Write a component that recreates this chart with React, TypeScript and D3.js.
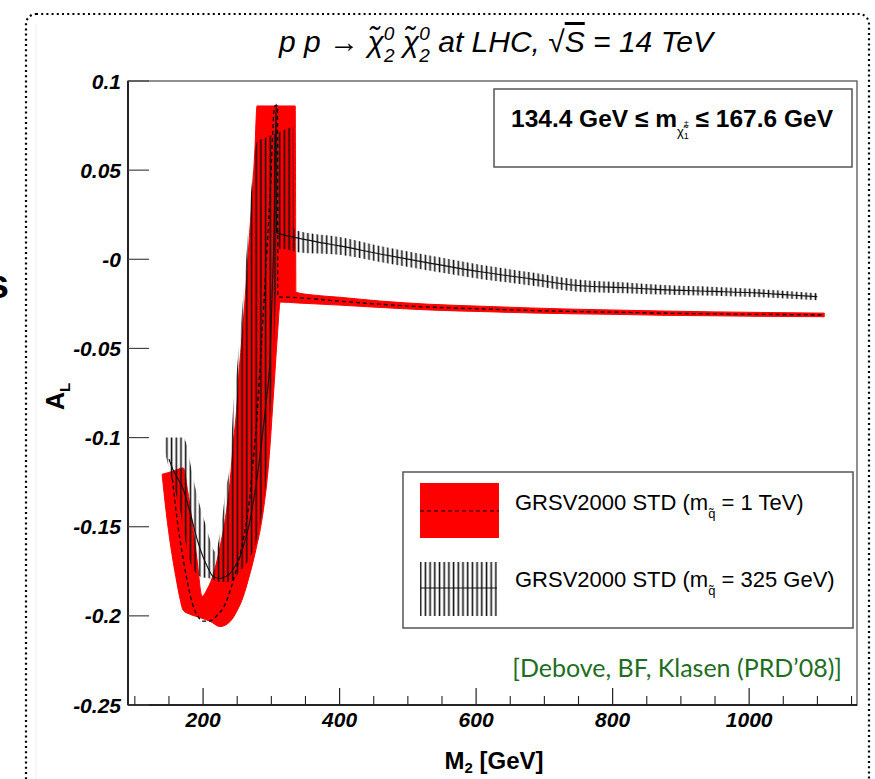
import React from "react";
import * as d3 from "d3";

const W = 875;
const H = 779;

// Axis ticks
const yTickValues = [0.1, 0.05, 0, -0.05, -0.1, -0.15, -0.2, -0.25];
const yTickLabels = ["0.1", "0.05", "-0", "-0.05", "-0.1", "-0.15", "-0.2", "-0.25"];
const xMajorTicks = [200, 400, 600, 800, 1000];
const xMinorTicks = [100, 150, 250, 300, 350, 450, 500, 550, 650, 700, 750, 850, 900, 950, 1050, 1100, 1150];

// GRSV2000 STD, m_squark = 1 TeV : band edges and central curve
const red1TeVUpperM = [140, 155, 171, 177, 184, 191, 198.5, 206, 213, 225, 234, 240, 244, 249, 252, 257, 262, 267, 272, 276, 279, 335, 336, 360, 400, 459, 530, 606, 680, 745, 820, 870, 950, 1016, 1060, 1110];
const red1TeVUpperA = [-0.1206, -0.119, -0.117, -0.129, -0.147, -0.168, -0.189, -0.185, -0.179, -0.161, -0.142, -0.123, -0.104, -0.085, -0.067, -0.044, -0.02, 0.008, 0.036, 0.062, 0.086, 0.086, -0.0185, -0.02, -0.0213, -0.0234, -0.0252, -0.0263, -0.0273, -0.028, -0.0286, -0.029, -0.0295, -0.0298, -0.03, -0.0302];
const red1TeVLowerM = [140, 146, 153, 160, 166, 171, 180, 196, 210, 225, 240, 250, 259, 266, 273, 279, 284, 290, 294, 298, 301, 305, 309, 313, 338, 400, 459, 530, 606, 680, 745, 820, 870, 950, 1016, 1060, 1110];
const red1TeVLowerA = [-0.1206, -0.142, -0.162, -0.178, -0.19, -0.197, -0.199, -0.201, -0.203, -0.206, -0.203, -0.197, -0.189, -0.18, -0.17, -0.16, -0.151, -0.136, -0.123, -0.105, -0.088, -0.065, -0.042, -0.024, -0.0245, -0.0257, -0.027, -0.0284, -0.0293, -0.0301, -0.0306, -0.031, -0.0314, -0.0317, -0.032, -0.0321, -0.0322];
const red1TeVCentralM = [155, 162, 169, 176, 185, 192, 200, 208, 215, 222, 229, 236, 242, 248, 254, 259, 264, 268, 271, 275, 279, 285, 291, 298, 305, 309, 309.5, 338, 400, 459, 530, 606, 680, 745, 820, 870, 950, 1016, 1060, 1110];
const red1TeVCentralA = [-0.123, -0.146, -0.164, -0.179, -0.194, -0.2, -0.203, -0.203, -0.202, -0.199, -0.196, -0.19, -0.183, -0.175, -0.166, -0.157, -0.146, -0.135, -0.123, -0.106, -0.088, -0.05, -0.012, 0.035, 0.086, 0.086, -0.021, -0.0215, -0.0235, -0.0252, -0.0268, -0.0278, -0.0287, -0.0293, -0.0298, -0.0302, -0.0306, -0.0309, -0.031, -0.0312];

// GRSV2000 STD, m_squark = 325 GeV : band edges and central curve
const blk325UpperM = [144, 160, 170, 176, 181, 188, 196, 203, 210, 218, 225, 233, 240, 244, 250, 258, 265, 272, 279, 290, 310, 332, 333, 338, 400, 459, 530, 606, 680, 745, 820, 870, 950, 1016, 1060, 1100];
const blk325UpperA = [-0.1, -0.1, -0.1, -0.104, -0.114, -0.127, -0.139, -0.148, -0.157, -0.164, -0.153, -0.13, -0.112, -0.084, -0.06, -0.025, 0.01, 0.045, 0.066, 0.068, 0.071, 0.074, 0.0175, 0.016, 0.0125, 0.0075, 0.0023, -0.003, -0.0073, -0.0112, -0.013, -0.0143, -0.0155, -0.0167, -0.0179, -0.019];
const blk325LowerM = [144, 155, 166, 174, 181, 196, 210, 225, 240, 254, 269, 279, 285, 291, 298, 305, 310, 333, 338, 400, 459, 530, 606, 680, 745, 820, 870, 950, 1016, 1060, 1100];
const blk325LowerA = [-0.108, -0.125, -0.14, -0.158, -0.17, -0.178, -0.179, -0.181, -0.181, -0.175, -0.167, -0.157, -0.145, -0.129, -0.09, -0.04, 0.006, 0.0045, 0.004, 0.0025, -0.0015, -0.0063, -0.011, -0.0147, -0.018, -0.019, -0.0197, -0.0205, -0.0213, -0.0221, -0.023];
const blk325CentralM = [150, 156, 163, 171, 178, 185, 192, 200, 207, 215, 225, 233, 240, 247, 254, 262, 269, 274, 279, 284, 288, 293, 298, 301, 304, 307, 307.5, 320, 338, 370, 400, 459, 530, 606, 680, 745, 820, 870, 950, 1016, 1060, 1100];
const blk325CentralA = [-0.112, -0.118, -0.123, -0.129, -0.138, -0.148, -0.158, -0.167, -0.173, -0.178, -0.179, -0.178, -0.176, -0.172, -0.167, -0.157, -0.146, -0.135, -0.123, -0.108, -0.095, -0.078, -0.056, -0.022, 0.017, 0.087, 0.015, 0.0135, 0.012, 0.0095, 0.0075, 0.003, -0.002, -0.007, -0.011, -0.0146, -0.016, -0.017, -0.018, -0.019, -0.02, -0.021];

const FONT = "'Liberation Sans', Arial, Helvetica, sans-serif";

const xScale = d3.scaleLinear().domain([90, 1158]).range([128, 857]);
const yScale = d3.scaleLinear().domain([-0.25, 0.1]).range([705, 81]);

const zip = (ms: number[], as: number[]): [number, number][] => ms.map((m, i) => [m, as[i]]);

const curveLine = d3
  .line<[number, number]>()
  .x((d) => xScale(d[0]))
  .y((d) => yScale(d[1]))
  .curve(d3.curveMonotoneX);

function bandPath(upM: number[], upA: number[], loM: number[], loA: number[]): string {
  const upper = curveLine(zip(upM, upA)) || "";
  const lower = curveLine(zip(loM, loA).reverse()) || "";
  return upper + "L" + lower.slice(1) + "Z";
}

export default function App() {
  const redBand = bandPath(red1TeVUpperM, red1TeVUpperA, red1TeVLowerM, red1TeVLowerA);
  const blkBand = bandPath(blk325UpperM, blk325UpperA, blk325LowerM, blk325LowerA);
  const redCentral = curveLine(zip(red1TeVCentralM, red1TeVCentralA)) || "";
  const blkCentral = curveLine(zip(blk325CentralM, blk325CentralA)) || "";

  const [x0, x1] = xScale.range();
  const [yBot, yTop] = yScale.range();

  return (
    <svg
      width={W}
      height={H}
      viewBox={`0 0 ${W} ${H}`}
      style={{ position: "absolute", left: 0, top: 0, background: "#fff" }}
      fontFamily={FONT}
    >
      <defs>
        <pattern id="vhatch" patternUnits="userSpaceOnUse" width={4.7} height={10}>
          <rect x={1.6} y={0} width={1.6} height={10} fill="#111" />
        </pattern>
        <clipPath id="frameClip">
          <rect x={x0} y={yTop} width={x1 - x0} height={yBot - yTop} />
        </clipPath>
      </defs>

      <rect x={0} y={0} width={W} height={H} fill="#fff" />

      {/* slide decoration: dotted rounded frame and a cut-off letter */}
      <rect
        x={26}
        y={14}
        width={843}
        height={820}
        rx={10}
        fill="none"
        stroke="#000"
        strokeWidth={2.2}
        strokeDasharray="2 3.2"
      />
      <line x1={36} y1={24} x2={36} y2={H} stroke="#eeeeee" strokeWidth={1} />
      <text x={9} y={298} fontSize={40} fontWeight="bold" textAnchor="end" fill="#000">
        s
      </text>

      {/* title */}
      <text x={496} y={52} fontSize={30} fontStyle="italic" textAnchor="middle" fill="#000">
        <tspan>p p → χ̃</tspan>
        <tspan fontSize={19} dy={-12}>0</tspan>
        <tspan fontSize={19} dx={-10.5} dy={22}>2</tspan>
        <tspan dy={-10}> χ̃</tspan>
        <tspan fontSize={19} dy={-12}>0</tspan>
        <tspan fontSize={19} dx={-10.5} dy={22}>2</tspan>
        <tspan dy={-10}> at LHC, √</tspan>
        <tspan textDecoration="overline">S</tspan>
        <tspan> = 14 TeV</tspan>
      </text>

      {/* frame */}
      <rect x={x0} y={yTop} width={x1 - x0} height={yBot - yTop} fill="#fff" stroke="#555" strokeWidth={1.3} />

      {/* curves */}
      <g clipPath="url(#frameClip)">
        <path d={redBand} fill="#ff0000" stroke="#ff0000" strokeWidth={1} />
        <path d={blkBand} fill="url(#vhatch)" stroke="none" />
        <path d={redCentral} fill="none" stroke="#000" strokeWidth={1.3} strokeDasharray="4 3" />
        <path d={blkCentral} fill="none" stroke="#111" strokeWidth={1.1} />
      </g>

      {/* axes */}
      <line x1={x0} y1={yTop} x2={x0} y2={yBot} stroke="#000" strokeWidth={1.5} />
      <line x1={x0} y1={yBot} x2={x1} y2={yBot} stroke="#000" strokeWidth={1.5} />
      {yTickValues.map((v, i) => (
        <g key={`y${i}`}>
          <line x1={x0} y1={yScale(v)} x2={x0 + 21} y2={yScale(v)} stroke="#444" strokeWidth={1.2} />
          <text
            x={x0 - 7}
            y={yScale(v) + 7.5}
            fontSize={21}
            fontWeight="bold"
            fontStyle="italic"
            textAnchor="end"
            fill="#000"
          >
            {yTickLabels[i]}
          </text>
        </g>
      ))}
      {xMajorTicks.map((m) => (
        <g key={`xM${m}`}>
          <line x1={xScale(m)} y1={yBot} x2={xScale(m)} y2={yBot - 17} stroke="#222" strokeWidth={1.2} />
          <text
            x={xScale(m)}
            y={727}
            fontSize={21}
            fontWeight="bold"
            fontStyle="italic"
            textAnchor="middle"
            fill="#000"
          >
            {m}
          </text>
        </g>
      ))}
      {xMinorTicks.map((m) => (
        <line key={`xm${m}`} x1={xScale(m)} y1={yBot} x2={xScale(m)} y2={yBot - 9} stroke="#222" strokeWidth={1.1} />
      ))}

      {/* axis titles */}
      <text x={494} y={769} fontSize={24} fontWeight="bold" textAnchor="middle" fill="#000">
        <tspan>M</tspan>
        <tspan fontSize={15} dy={4}>2</tspan>
        <tspan dy={-4}> [GeV]</tspan>
      </text>
      <text
        transform="translate(64,410) rotate(-90)"
        fontSize={25}
        fontWeight="bold"
        fill="#000"
      >
        <tspan>A</tspan>
        <tspan fontSize={15} dy={6}>L</tspan>
      </text>

      {/* chargino mass range box */}
      <rect x={494} y={89} width={358} height={78} fill="#fff" stroke="#555" strokeWidth={1.5} />
      <text x={672} y={127} fontSize={24.5} fontWeight="bold" textAnchor="middle" fill="#000">
        <tspan>134.4 GeV ≤ m</tspan>
        <tspan fontSize={13} fontWeight="normal" dy={9}>χ̃</tspan>
        <tspan fontSize={9} fontWeight="normal" dy={-10}>±</tspan>
        <tspan fontSize={9} fontWeight="normal" dx={-5} dy={13}>1</tspan>
        <tspan dy={-12}> ≤ 167.6 GeV</tspan>
      </text>

      {/* legend */}
      <rect x={403} y={472} width={450} height={156} fill="#fff" stroke="#555" strokeWidth={1.5} />
      <rect x={420} y={483} width={79} height={55} fill="#ff0000" />
      <line x1={420} y1={511} x2={499} y2={511} stroke="#000" strokeWidth={1.2} strokeDasharray="4 3" />
      <rect x={420} y={562} width={77} height={54} fill="url(#vhatch)" />
      <line x1={420} y1={588} x2={497} y2={588} stroke="#111" strokeWidth={1.1} />
      <text x={515} y={510} fontSize={22} fill="#000">
        <tspan>GRSV2000 STD (m</tspan>
        <tspan fontSize={13} dy={8}>q̃</tspan>
        <tspan dy={-8}> = 1 TeV)</tspan>
      </text>
      <text x={515} y={587} fontSize={22} fill="#000">
        <tspan>GRSV2000 STD (m</tspan>
        <tspan fontSize={13} dy={8}>q̃</tspan>
        <tspan dy={-8}> = 325 GeV)</tspan>
      </text>

      {/* reference */}
      <text x={842} y={677} fontSize={25} fontFamily="Lato, 'Open Sans', sans-serif" textAnchor="end" fill="#1e6e22">
        [Debove, BF, Klasen (PRD’08)]
      </text>
    </svg>
  );
}
